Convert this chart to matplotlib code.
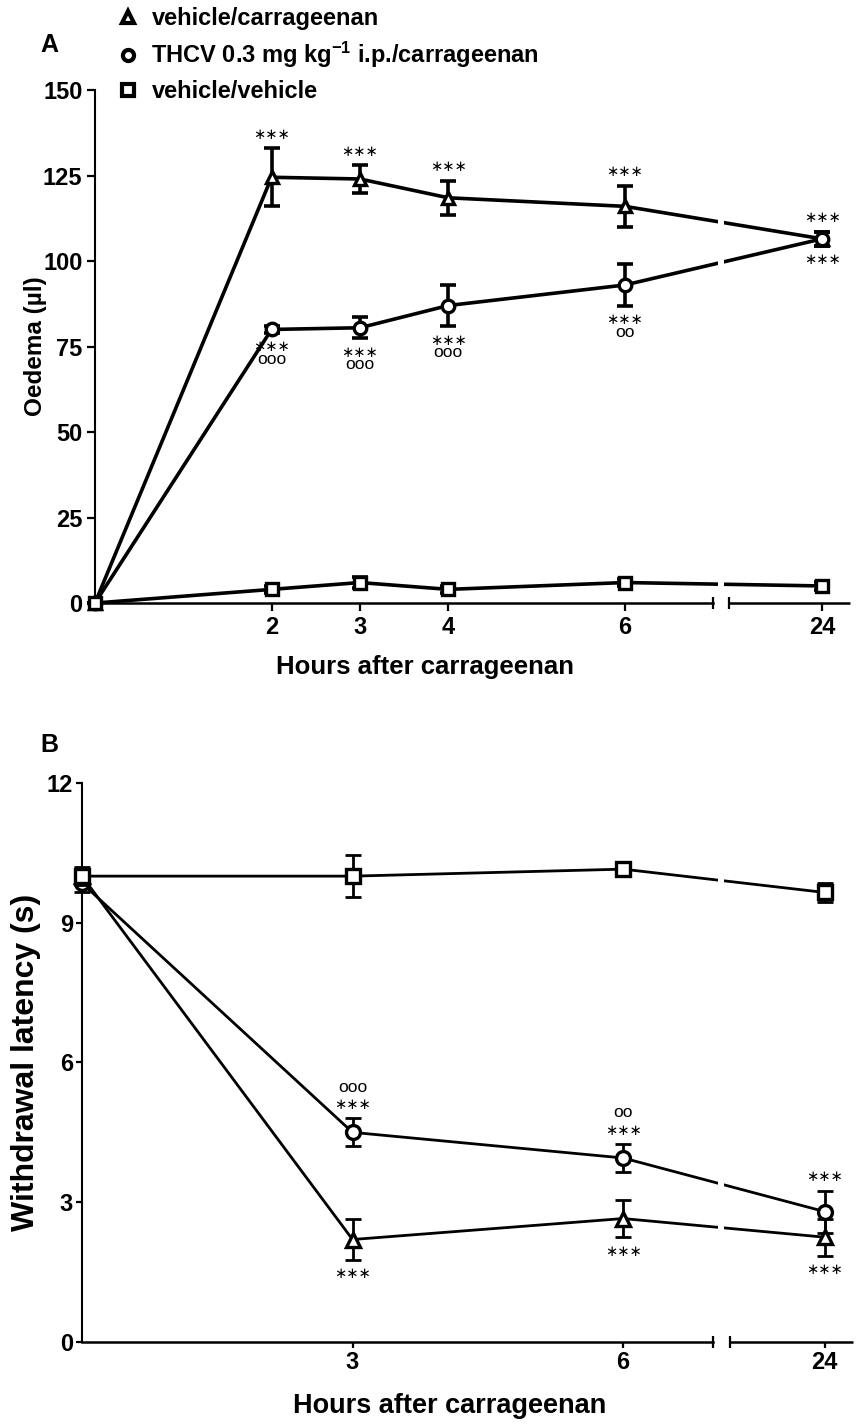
import numpy as np
import matplotlib
matplotlib.use("Agg")
import matplotlib.pyplot as plt
from matplotlib.lines import Line2D

plt.rcParams['font.family'] = ['Liberation Sans', 'DejaVu Sans']
plt.rcParams['mathtext.fontset'] = 'custom'
plt.rcParams['mathtext.bf'] = 'Liberation Sans:bold'
plt.rcParams['mathtext.rm'] = 'Liberation Sans:bold'
plt.rcParams['mathtext.default'] = 'bf'

# ---- data, panel A (oedema, ul) ----
hours_a = [0, 2, 3, 4, 6, 24]
veh_carr_a = [0, 124.5, 124, 118.5, 116, 106.5]
veh_carr_a_err = [0, 8.5, 4, 5, 6, 2]
thcv_a = [0, 80, 80.5, 87, 93, 106.5]
thcv_a_err = [0, 1, 3, 6, 6, 2]
veh_veh_a = [0, 4, 6, 4, 6, 5]
veh_veh_a_err = [0, 1, 1.5, 1, 1, 1.2]

# significance marks, listed from the point outwards
stars_tri_a = [[], ['***'], ['***'], ['***'], ['***'], ['***']]
stars_circ_a = [[], ['***', 'ooo'], ['***', 'ooo'], ['***', 'ooo'], ['***', 'oo'], ['***']]

# ---- data, panel B (withdrawal latency, s) ----
hours_b = [0, 3, 6, 24]
veh_carr_b = [10.0, 2.2, 2.65, 2.25]
veh_carr_b_err = [0.15, 0.43, 0.4, 0.4]
thcv_b = [9.85, 4.5, 3.95, 2.8]
thcv_b_err = [0.2, 0.3, 0.3, 0.45]
veh_veh_b = [10.0, 10.0, 10.15, 9.65]
veh_veh_b_err = [0.2, 0.45, 0.1, 0.2]

stars_circ_b = [[], ['***', 'ooo'], ['***', 'oo'], ['***']]
stars_tri_b = [[], ['***'], ['***'], ['***']]

labels = ['vehicle/carrageenan',
          r'THCV 0.3 mg kg$^{-1}$ i.p./carrageenan',
          'vehicle/vehicle']

# broken x axis: 7..23 h squeezed into a small gap
GAP = 0.18
S = 1.053


def fwd(x):
    x = np.asarray(x, float)
    return np.where(x <= 7, x,
                    np.where(x < 23, 7 + (x - 7) * GAP / 16, 7 + GAP + (x - 23) * S))


def inv(y):
    y = np.asarray(y, float)
    return np.where(y <= 7, y,
                    np.where(y < 7 + GAP, 7 + (y - 7) * 16 / GAP, 23 + (y - 7 - GAP) / S))


def series(ax, x, y, err, marker, lw, ms, z):
    ax.errorbar(x, y, yerr=err, fmt='none', ecolor='black', elinewidth=lw,
                capsize=5.5, capthick=lw, zorder=z, clip_on=False)
    ax.plot(x, y, '-', color='black', lw=lw, marker=marker, ms=ms,
            mfc='white', mec='black', mew=2.4, zorder=z + 0.5, clip_on=False)


def setup(ax, ticks, ymax, yticks, tlen, tpad):
    ax.set_xscale('function', functions=(fwd, inv))
    ax.set_xlim(0, 24.3)
    ax.set_ylim(0, ymax)
    ax.set_xticks(ticks)
    ax.set_xticklabels([str(t) for t in ticks])
    ax.set_yticks(yticks)
    ax.minorticks_off()
    for s in ['top', 'right']:
        ax.spines[s].set_visible(False)
    ax.spines['left'].set_linewidth(1.5)
    ax.spines['bottom'].set_linewidth(1.8)
    ax.spines['bottom'].set_bounds(0, 7)
    ax.plot([23, 24.3], [0, 0], color='black', lw=1.8, clip_on=False, zorder=2.5,
            solid_capstyle='butt')
    ax.plot([7, 23], [0, 0], ls='none', marker='|', ms=9, mew=1.6, color='black',
            clip_on=False, zorder=2.5)
    ax.axvspan(12, 18, color='white', zorder=6, lw=0)
    ax.tick_params(axis='both', direction='out', length=tlen, width=1.6,
                   labelsize=17, pad=tpad)
    for lab in ax.get_xticklabels() + ax.get_yticklabels():
        lab.set_fontweight('bold')


def mark(ax, x, y, lines, above):
    sign = 1 if above else -1
    for k, t in enumerate(lines):
        off = (14 + 15 * k) * 0.72 * sign
        if t.startswith('*'):
            ax.annotate('\u2217' * len(t), (x, y), xytext=(0, off), textcoords='offset points',
                        ha='center', va='center', fontsize=10.5, family='DejaVu Sans', zorder=8)
        else:
            ax.annotate(t, (x, y), xytext=(0, off + 1.5), textcoords='offset points',
                        ha='center', va='center', fontsize=12.5, family='Liberation Sans', zorder=8)


fig = plt.figure(figsize=(8.61, 14.25), dpi=100)

# ---- panel A ----
axA = fig.add_axes([0.1103, 0.5768, 0.8769, 0.36])
setup(axA, [2, 3, 4, 6, 24], 150, [0, 25, 50, 75, 100, 125, 150], 6, 3)
series(axA, hours_a, veh_carr_a, veh_carr_a_err, '^', 2.6, 9, 3)
series(axA, hours_a, thcv_a, thcv_a_err, 'o', 2.6, 9, 3)
series(axA, hours_a, veh_veh_a, veh_veh_a_err, 's', 2.6, 9, 4)
for i, h in enumerate(hours_a):
    mark(axA, h, veh_carr_a[i] + veh_carr_a_err[i], stars_tri_a[i], True)
    mark(axA, h, thcv_a[i] - thcv_a_err[i], stars_circ_a[i], False)
axA.set_ylabel('Oedema (\u00b5l)', fontsize=17.5, fontweight='bold', labelpad=-3)
axA.set_xlabel('Hours after carrageenan', fontsize=18.5, fontweight='bold', labelpad=12)
axA.xaxis.label.set_x(0.437)
fig.text(40 / 861, 1 - 45 / 1425, 'A', fontsize=18, fontweight='bold', ha='left', va='center')

# legend
handles = [Line2D([], [], ls='none', marker=m, ms=8, mfc='white', mec='black', mew=3)
           for m in ['^', 'o', 's']]
fig.legend(handles, labels, loc='upper left', bbox_to_anchor=(116 / 861, 1 - 7 / 1425),
           frameon=False, prop={'size': 17, 'weight': 'bold'}, handlelength=1.0,
           handletextpad=0.5, labelspacing=0.42, borderaxespad=0, borderpad=0)

# ---- panel B ----
axB = fig.add_axes([0.0952, 0.05825, 0.8955, 0.3923])
setup(axB, [3, 6, 24], 12, [0, 3, 6, 9, 12], 4.5, 2)
series(axB, hours_b, veh_carr_b, veh_carr_b_err, '^', 2.0, 10, 3)
series(axB, hours_b, thcv_b, thcv_b_err, 'o', 2.0, 10, 3)
series(axB, hours_b, veh_veh_b, veh_veh_b_err, 's', 2.0, 10, 4)
for i, h in enumerate(hours_b):
    mark(axB, h, thcv_b[i] + thcv_b_err[i], stars_circ_b[i], True)
    mark(axB, h, veh_carr_b[i] - veh_carr_b_err[i], stars_tri_b[i], False)
axB.set_ylabel('Withdrawal latency (s)', fontsize=23, fontweight='bold', labelpad=4)
axB.set_xlabel('Hours after carrageenan', fontsize=19.5, fontweight='bold', labelpad=14)
axB.xaxis.label.set_x(0.477)
fig.text(40 / 861, 1 - 745 / 1425, 'B', fontsize=18, fontweight='bold', ha='left', va='center')

fig.savefig('out.png', dpi=100)
